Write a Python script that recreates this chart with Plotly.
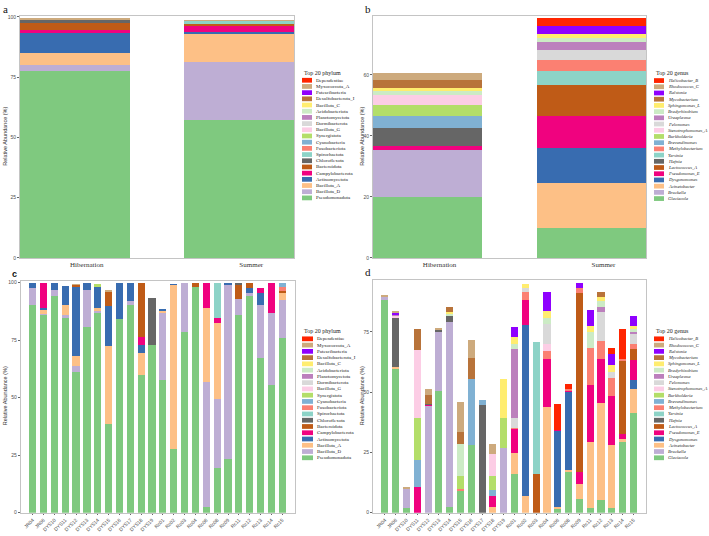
import plotly.graph_objects as go

W, H = 709, 536

# ---------------- categories ----------------
PERIODS = ["Hibernation", "Summer"]
SAMPLES = ["JR04", "JR06", "DYS10", "DYS11", "DYS12", "DYS13", "DYS14", "DYS15",
           "DYS16", "DYS17", "DYS18", "DYS19", "Rc01", "Rc02", "Rc03", "Rc04",
           "Rc06", "Rc08", "Rc09", "Rc11", "Rc12", "Rc13", "Rc14", "Rc15"]

# stacking order (bottom -> top); legend shows reverse
PHYLA = ["Pseudomonadota", "Bacillota_D", "Bacillota_A", "Actinomycetota",
         "Campylobacterota", "Bacteroidota", "Chloroflexota", "Spirochaetota",
         "Fusobacteriota", "Cyanobacteria", "Synergistota", "Bacillota_G",
         "Dormibacterota", "Planctomycetota", "Acidobacteriota", "Bacillota_C",
         "Desulfobacterota_I", "Patescibacteria", "Myxococcota_A", "Dependentiae"]
GENERA = ["Glaciecola", "Bruckella", "Acinetobacter", "Dysgonomonas",
          "Pseudomonas_E", "Lactococcus_A", "Hafnia", "Yersinia",
          "Methylobacterium", "Brevundimonas", "Burkholderia", "Stenotrophomonas_A",
          "Pelomonas", "Ureaplasma", "Bradyrhizobium", "Sphingomonas_L",
          "Mycobacterium", "Ralstonia", "Rhodococcus_C", "Helicobacter_B"]
COLORS = ["#7FC97F", "#BEAED4", "#FDC086", "#386CB0", "#F0027F", "#BF5B17",
          "#666666", "#8DD3C7", "#FB8072", "#80B1D3", "#B3DE69", "#FCCDE5",
          "#D9D9D9", "#BC80BD", "#CCEBC5", "#FFED6F", "#B8733A", "#8F00FF",
          "#CDAA7D", "#FF2400"]

# ---------------- panel a (phylum, period) ----------------
A_PSEUDOMONADOTA = [77.6, 57.1]
A_BACILLOTA_D = [2.5, 24.2]
A_BACILLOTA_A = [4.8, 11.8]
A_ACTINOMYCETOTA = [8.5, 0.7]
A_CAMPYLOBACTEROTA = [1.1, 2.5]
A_BACTEROIDOTA = [2.8, 0.7]
A_CHLOROFLEXOTA = [1.6, 0.0]
A_SPIROCHAETOTA = [0.2, 1.4]
A_MYXOCOCCOTA_A = [0.2, 0.1]

# ---------------- panel b (genus, period) ----------------
B_GLACIECOLA = [20.1, 9.8]
B_BRUCKELLA = [15.2, 0.0]
B_ACINETOBACTER = [0.0, 14.7]
B_DYSGONOMONAS = [0.0, 11.7]
B_PSEUDOMONAS_E = [1.4, 10.2]
B_LACTOCOCCUS_A = [0.0, 10.4]
B_HAFNIA = [5.9, 0.0]
B_YERSINIA = [0.0, 4.6]
B_METHYLOBACTERIUM = [0.0, 3.6]
B_BREVUNDIMONAS = [4.1, 0.0]
B_BURKHOLDERIA = [3.6, 0.0]
B_STENOTROPHOMONAS_A = [3.2, 0.0]
B_PELOMONAS = [0.0, 3.2]
B_UREAPLASMA = [0.0, 2.7]
B_BRADYRHIZOBIUM = [1.2, 1.4]
B_SPHINGOMONAS_L = [1.1, 1.3]
B_MYCOBACTERIUM = [2.6, 0.0]
B_RALSTONIA = [0.0, 2.5]
B_RHODOCOCCUS_C = [2.3, 0.0]
B_HELICOBACTER_B = [0.0, 2.5]

# ---------------- panel c (phylum, sample) ----------------
C_PSEUDOMONADOTA = [90.2, 86.0, 94.2, 84.5, 61.2, 80.6, 87.0, 38.6, 84.0, 90.2, 60.0, 73.1,
                    57.8, 27.6, 78.4, 98.3, 2.4, 19.4, 23.5, 86.0, 94.0, 67.2, 55.4, 75.8]
C_BACILLOTA_D = [7.5, 0.4, 2.5, 1.4, 2.5, 16.1, 0.8, 0.0, 0.0, 2.0, 0.0, 0.0,
                 29.0, 0.0, 21.6, 0.0, 54.4, 30.2, 75.3, 6.8, 1.7, 23.2, 31.6, 16.7]
C_BACILLOTA_A = [0.0, 1.8, 0.0, 4.5, 4.6, 0.0, 1.2, 33.8, 0.0, 0.0, 9.5, 0.0,
                 1.0, 71.4, 0.0, 0.0, 32.1, 32.8, 0.0, 0.0, 0.0, 0.0, 0.0, 3.2]
C_ACTINOMYCETOTA = [2.3, 0.6, 3.3, 8.2, 30.0, 3.3, 9.2, 17.5, 16.0, 7.8, 3.5, 0.0,
                    0.7, 0.3, 0.0, 0.0, 0.0, 0.0, 0.9, 0.0, 2.1, 5.0, 0.0, 0.0]
C_CAMPYLOBACTEROTA = [0.0, 11.2, 0.0, 0.0, 0.0, 0.0, 0.0, 0.0, 0.0, 0.0, 3.3, 0.0,
                      0.0, 0.0, 0.0, 0.0, 10.8, 2.1, 0.0, 0.0, 0.0, 2.4, 12.7, 0.0]
C_BACTEROIDOTA = [0.0, 0.0, 0.0, 0.0, 0.7, 0.0, 0.0, 6.1, 0.0, 0.0, 23.7, 0.0,
                  0.0, 0.0, 0.0, 1.7, 0.0, 0.0, 0.0, 6.4, 1.9, 0.0, 0.0, 0.6]
C_CHLOROFLEXOTA = [0.0, 0.0, 0.0, 0.0, 0.0, 0.0, 0.0, 0.0, 0.0, 0.0, 0.0, 20.4,
                   0.0, 0.0, 0.0, 0.0, 0.0, 0.0, 0.0, 0.5, 0.0, 0.0, 0.0, 0.0]
C_SPIROCHAETOTA = [0.0, 0.0, 0.0, 0.0, 0.0, 0.0, 0.0, 0.0, 0.0, 0.0, 0.0, 0.0,
                   0.0, 0.0, 0.0, 0.0, 0.0, 15.2, 0.0, 0.0, 0.0, 0.0, 0.0, 0.0]
C_FUSOBACTERIOTA = [0.0] * 23 + [2.0]
C_CYANOBACTERIA = [0.0] * 23 + [1.4]
C_SYNERGISTOTA = [0.0, 0.0, 0.0, 0.0, 0.0, 0.0, 1.4, 0.0, 0.0, 0.0, 0.0, 0.0,
                  0.0, 0.0, 0.0, 0.0, 0.0, 0.0, 0.0, 0.0, 0.0, 0.0, 0.0, 0.0]
C_MYXOCOCCOTA_A = [0.0, 0.0, 0.0, 0.0, 0.3, 0.0, 0.0, 0.4, 0.0, 0.0, 0.0, 0.0,
                   0.0, 0.0, 0.0, 0.0, 0.0, 0.0, 0.0, 0.0, 0.0, 0.0, 0.0, 0.0]

# ---------------- panel d (genus, sample) ----------------
D_GLACIECOLA = [88.3, 59.8, 2.1, 0.0, 0.0, 50.4, 2.3, 8.9, 28.2, 0.0, 0.0, 0.0,
                16.1, 0.0, 0.0, 0.0, 1.8, 16.9, 5.5, 2.1, 5.2, 1.8, 29.3, 41.2]
D_BRUCKELLA = [1.2, 0.0, 7.6, 0.0, 44.4, 24.5, 76.7, 0.0, 0.0, 0.0, 0.0, 26.8,
               0.0, 0.0, 0.0, 0.0, 0.0, 0.0, 0.0, 0.0, 0.0, 0.0, 0.0, 0.0]
D_ACINETOBACTER = [0.0, 0.6, 0.0, 0.0, 0.0, 0.0, 0.0, 0.0, 0.0, 0.0, 2.3, 0.0,
                   8.6, 6.9, 0.0, 44.0, 0.5, 0.8, 6.2, 27.2, 40.5, 26.4, 1.3, 10.0]
D_DYSGONOMONAS = [0.0, 0.0, 0.0, 0.0, 0.0, 0.0, 0.0, 0.0, 0.0, 0.0, 0.0, 0.0,
                  0.0, 71.0, 0.0, 0.0, 31.6, 32.4, 0.0, 0.0, 0.0, 0.0, 0.0, 3.7]
D_PSEUDOMONAS_E = [0.0, 0.0, 0.0, 10.6, 0.4, 0.0, 0.0, 0.0, 0.0, 0.0, 4.6, 0.0,
                   10.1, 10.4, 0.0, 19.9, 0.4, 0.7, 5.2, 23.6, 17.9, 20.3, 2.0, 8.3]
D_LACTOCOCCUS_A = [0.0, 0.0, 0.0, 0.0, 0.0, 0.0, 0.0, 0.0, 0.0, 0.0, 0.0, 0.0,
                   0.0, 0.0, 16.1, 0.0, 0.0, 0.0, 74.2, 0.0, 0.0, 0.0, 30.6, 4.8]
D_HAFNIA = [0.0, 20.5, 0.0, 0.0, 0.5, 1.1, 2.7, 0.0, 0.0, 44.6, 0.0, 0.0,
            0.0, 0.0, 0.0, 0.0, 0.0, 0.0, 0.0, 0.0, 0.0, 0.0, 0.0, 0.0]
D_YERSINIA = [0.0, 0.0, 0.0, 0.0, 0.0, 0.0, 0.0, 0.0, 0.0, 0.0, 0.0, 0.0,
              0.0, 0.0, 54.9, 0.0, 0.0, 0.0, 0.0, 0.0, 0.0, 0.0, 0.0, 0.0]
D_METHYLOBACTERIUM = [0.0, 0.0, 0.0, 0.0, 0.0, 0.0, 0.0, 1.0, 0.0, 0.0, 0.0, 0.0,
                      0.5, 3.3, 0.0, 3.0, 0.0, 0.4, 2.3, 15.4, 7.8, 7.4, 0.7, 2.0]
D_BREVUNDIMONAS = [0.0, 0.0, 0.0, 11.4, 0.0, 0.0, 0.0, 0.0, 27.4, 2.1, 2.7, 0.0,
                   0.0, 0.0, 0.0, 0.0, 0.0, 0.0, 0.0, 0.0, 0.0, 0.0, 0.0, 0.0]
D_BURKHOLDERIA = [0.0, 0.0, 0.0, 17.4, 0.0, 0.0, 0.0, 5.2, 0.0, 0.0, 5.5, 12.6,
                  0.0, 0.0, 0.0, 0.0, 0.0, 0.0, 0.0, 0.0, 0.0, 0.0, 0.0, 0.0]
D_STENOTROPHOMONAS_A = [0.0, 0.8, 0.0, 28.3, 0.0, 0.0, 0.0, 0.0, 0.0, 0.0, 9.2, 0.0,
                        0.0, 0.0, 0.0, 3.1, 0.0, 0.0, 0.0, 0.0, 0.0, 0.0, 0.0, 0.0]
D_PELOMONAS = [0.0, 0.0, 0.0, 0.0, 0.0, 0.0, 0.0, 0.0, 0.0, 0.0, 0.0, 0.0,
               4.1, 1.8, 0.0, 8.3, 0.0, 0.0, 0.0, 0.0, 12.0, 2.5, 0.0, 4.2]
D_UREAPLASMA = [0.0, 0.4, 0.0, 0.0, 0.0, 0.0, 0.0, 0.0, 0.0, 0.0, 0.0, 0.0,
                28.6, 0.0, 0.0, 0.0, 0.0, 0.0, 0.0, 0.0, 1.8, 0.0, 0.0, 0.7]
D_BRADYRHIZOBIUM = [0.0, 0.0, 0.0, 0.0, 0.0, 0.0, 0.7, 13.3, 0.0, 0.0, 0.0, 0.0,
                    2.0, 0.0, 0.0, 2.3, 0.0, 0.0, 0.0, 6.6, 2.7, 0.0, 0.0, 1.3]
D_SPHINGOMONAS_L = [0.0, 0.0, 0.0, 0.0, 0.0, 0.0, 0.7, 0.0, 0.0, 0.0, 0.0, 16.0,
                    2.8, 1.4, 0.0, 3.2, 0.0, 0.0, 0.0, 2.5, 1.4, 2.7, 0.0, 1.4]
D_MYCOBACTERIUM = [0.0, 0.0, 0.0, 8.5, 3.5, 0.0, 2.1, 5.0, 8.5, 0.0, 0.0, 0.0,
                   0.0, 0.0, 0.0, 0.0, 0.0, 0.0, 0.0, 0.0, 2.3, 0.0, 0.0, 0.0]
D_RALSTONIA = [0.0, 0.9, 0.0, 0.0, 0.0, 0.0, 0.0, 0.0, 0.0, 0.0, 0.0, 0.0,
               4.1, 0.0, 0.0, 7.8, 0.0, 0.0, 1.8, 6.5, 0.0, 4.8, 0.0, 4.1]
D_RHODOCOCCUS_C = [0.4, 0.5, 1.0, 0.0, 2.7, 0.5, 0.0, 12.6, 7.6, 0.0, 4.1, 0.0,
                   0.0, 0.0, 0.0, 0.0, 0.0, 0.0, 0.0, 0.0, 0.0, 0.0, 0.0, 0.0]
D_HELICOBACTER_B = [0.0, 0.0, 0.0, 0.0, 0.0, 0.0, 0.0, 0.0, 0.0, 0.0, 0.0, 0.0,
                    0.0, 0.0, 0.0, 0.0, 10.6, 2.0, 0.0, 0.0, 0.0, 2.4, 12.3, 0.0]

A_VALUES = {
    "Pseudomonadota": A_PSEUDOMONADOTA, "Bacillota_D": A_BACILLOTA_D,
    "Bacillota_A": A_BACILLOTA_A, "Actinomycetota": A_ACTINOMYCETOTA,
    "Campylobacterota": A_CAMPYLOBACTEROTA, "Bacteroidota": A_BACTEROIDOTA,
    "Chloroflexota": A_CHLOROFLEXOTA, "Spirochaetota": A_SPIROCHAETOTA,
    "Myxococcota_A": A_MYXOCOCCOTA_A,
}
B_VALUES = {
    "Glaciecola": B_GLACIECOLA, "Bruckella": B_BRUCKELLA, "Acinetobacter": B_ACINETOBACTER,
    "Dysgonomonas": B_DYSGONOMONAS, "Pseudomonas_E": B_PSEUDOMONAS_E,
    "Lactococcus_A": B_LACTOCOCCUS_A, "Hafnia": B_HAFNIA, "Yersinia": B_YERSINIA,
    "Methylobacterium": B_METHYLOBACTERIUM, "Brevundimonas": B_BREVUNDIMONAS,
    "Burkholderia": B_BURKHOLDERIA, "Stenotrophomonas_A": B_STENOTROPHOMONAS_A,
    "Pelomonas": B_PELOMONAS, "Ureaplasma": B_UREAPLASMA, "Bradyrhizobium": B_BRADYRHIZOBIUM,
    "Sphingomonas_L": B_SPHINGOMONAS_L, "Mycobacterium": B_MYCOBACTERIUM,
    "Ralstonia": B_RALSTONIA, "Rhodococcus_C": B_RHODOCOCCUS_C,
    "Helicobacter_B": B_HELICOBACTER_B,
}
C_VALUES = {
    "Pseudomonadota": C_PSEUDOMONADOTA, "Bacillota_D": C_BACILLOTA_D,
    "Bacillota_A": C_BACILLOTA_A, "Actinomycetota": C_ACTINOMYCETOTA,
    "Campylobacterota": C_CAMPYLOBACTEROTA, "Bacteroidota": C_BACTEROIDOTA,
    "Chloroflexota": C_CHLOROFLEXOTA, "Spirochaetota": C_SPIROCHAETOTA,
    "Fusobacteriota": C_FUSOBACTERIOTA, "Cyanobacteria": C_CYANOBACTERIA,
    "Synergistota": C_SYNERGISTOTA, "Myxococcota_A": C_MYXOCOCCOTA_A,
}
D_VALUES = {
    "Glaciecola": D_GLACIECOLA, "Bruckella": D_BRUCKELLA, "Acinetobacter": D_ACINETOBACTER,
    "Dysgonomonas": D_DYSGONOMONAS, "Pseudomonas_E": D_PSEUDOMONAS_E,
    "Lactococcus_A": D_LACTOCOCCUS_A, "Hafnia": D_HAFNIA, "Yersinia": D_YERSINIA,
    "Methylobacterium": D_METHYLOBACTERIUM, "Brevundimonas": D_BREVUNDIMONAS,
    "Burkholderia": D_BURKHOLDERIA, "Stenotrophomonas_A": D_STENOTROPHOMONAS_A,
    "Pelomonas": D_PELOMONAS, "Ureaplasma": D_UREAPLASMA, "Bradyrhizobium": D_BRADYRHIZOBIUM,
    "Sphingomonas_L": D_SPHINGOMONAS_L, "Mycobacterium": D_MYCOBACTERIUM,
    "Ralstonia": D_RALSTONIA, "Rhodococcus_C": D_RHODOCOCCUS_C,
    "Helicobacter_B": D_HELICOBACTER_B,
}


def px(x):
    return x / W


def py(y):
    return 1 - y / H


fig = go.Figure()


def add_panel(names, values, cats, xa, ya, width):
    for i, name in enumerate(names):
        if name not in values:
            continue
        fig.add_trace(go.Bar(
            x=cats, y=values[name], name=name, xaxis=xa, yaxis=ya,
            marker=dict(color=COLORS[i], line=dict(width=0)),
            width=width, showlegend=False,
            hovertemplate=name + ": %{y}<extra></extra>"))


add_panel(PHYLA, A_VALUES, PERIODS, "x", "y", 0.667)
add_panel(GENERA, B_VALUES, PERIODS, "x2", "y2", 0.667)
add_panel(PHYLA, C_VALUES, SAMPLES, "x3", "y3", 0.66)
add_panel(GENERA, D_VALUES, SAMPLES, "x4", "y4", 0.66)

FRAME = "#C4C4C4"
SANS = "Liberation Sans, Arial, sans-serif"
SERIF = "Liberation Serif, Times New Roman, serif"
TICKFONT = dict(family=SANS, size=5, color="#4D4D4D")


def xaxis(dom, rng, cats, serif_labels, anchor):
    d = dict(domain=[px(dom[0]), px(dom[1])], range=rng, anchor=anchor,
             type="category", categoryorder="array", categoryarray=cats,
             showline=True, mirror=True, linecolor=FRAME, linewidth=1,
             showgrid=False, zeroline=False, fixedrange=True)
    if serif_labels:
        d.update(ticks="", tickfont=dict(family=SERIF, size=7, color="#333333"),
                 ticklabelshift=12)
    else:
        d.update(ticks="outside", ticklen=1.5, tickwidth=0.5, tickcolor="#666666",
                 tickangle=-45, tickfont=TICKFONT)
    return d


def yaxis(dom, rng, dtick, anchor):
    return dict(domain=[py(dom[1]), py(dom[0])], range=rng, anchor=anchor,
                dtick=dtick, tick0=0, showline=True, mirror=True, linecolor=FRAME,
                linewidth=1, showgrid=False, zeroline=False, ticks="outside",
                ticklen=2, tickwidth=0.5, tickcolor="#666666", tickfont=TICKFONT,
                fixedrange=True)


fig.update_layout(
    width=W, height=H, margin=dict(l=0, r=0, t=0, b=0),
    paper_bgcolor="white", plot_bgcolor="white", barmode="stack",
    xaxis=xaxis((20, 294), [-0.333, 1.333], PERIODS, True, "y"),
    yaxis=yaxis((14, 258.3), [0, 100.4], 25, "x"),
    xaxis2=xaxis((373, 646), [-0.333, 1.333], PERIODS, True, "y2"),
    yaxis2=yaxis((14, 258.3), [0, 79.4], 20, "x2"),
    xaxis3=xaxis((20.7, 295), [-1.1, 24.17], SAMPLES, False, "y3"),
    yaxis3=yaxis((281.7, 515.5), [0, 100.7], 25, "x3"),
    xaxis4=xaxis((373, 646), [-1.1, 24.17], SAMPLES, False, "y4"),
    yaxis4=yaxis((280.7, 515.5), [0, 96.5], 25, "x4"),
)

ann = []
shapes = []

# panel letters
for letter, x, y, fam in [("a", 5, 7, SERIF), ("b", 368, 7, SERIF),
                          ("c", 14, 275, SANS), ("d", 368, 273, SERIF)]:
    ann.append(dict(text=("<b>%s</b>" % letter) if fam == SANS else letter,
                    x=px(x), y=py(y), xref="paper", yref="paper",
                    xanchor="center", yanchor="middle", showarrow=False,
                    font=dict(family=fam, size=11 if fam == SERIF else 9, color="#111111")))

# y axis titles
for x, y in [(5, 136), (362, 136), (5, 398), (362, 398)]:
    ann.append(dict(text="Relative Abundance (%)", x=px(x), y=py(y), xref="paper",
                    yref="paper", textangle=-90, showarrow=False, xanchor="center",
                    yanchor="middle", font=dict(family=SANS, size=5.5, color="#333333")))

# custom legends
LEG = [
    ("Top 20 phylum", PHYLA, False, 302, 312, 71.5, 79.0, 6.25, 5.0),
    ("Top 20 genus", GENERA, True, 654, 664, 71.8, 79.3, 6.27, 4.6),
    ("Top 20 phylum", PHYLA, False, 302, 313, 332.0, 340.0, 6.32, 5.0),
    ("Top 20 genus", GENERA, True, 654, 664, 332.0, 340.0, 6.32, 4.6),
]
for title, names, italic, x0, x1, ty, y0, step, fs in LEG:
    ann.append(dict(text=title, x=px(x0), y=py(ty), xref="paper", yref="paper",
                    xanchor="left", yanchor="middle", showarrow=False,
                    font=dict(family=SERIF, size=6, color="#222222")))
    for k, name in enumerate(reversed(names)):
        idx = len(names) - 1 - k
        yc = y0 + step * k
        shapes.append(dict(type="rect", xref="paper", yref="paper",
                           x0=px(x0), x1=px(x1), y0=py(yc + 2.4), y1=py(yc - 2.4),
                           fillcolor=COLORS[idx], line=dict(width=0)))
        ann.append(dict(text=("<i>%s</i>" % name) if italic else name,
                        x=px(x1 + 2.0), y=py(yc), xref="paper", yref="paper",
                        xanchor="left", yanchor="middle", showarrow=False,
                        font=dict(family=SERIF, size=fs, color="#222222")))

fig.update_layout(annotations=ann, shapes=shapes)
fig.write_html("out.html")
